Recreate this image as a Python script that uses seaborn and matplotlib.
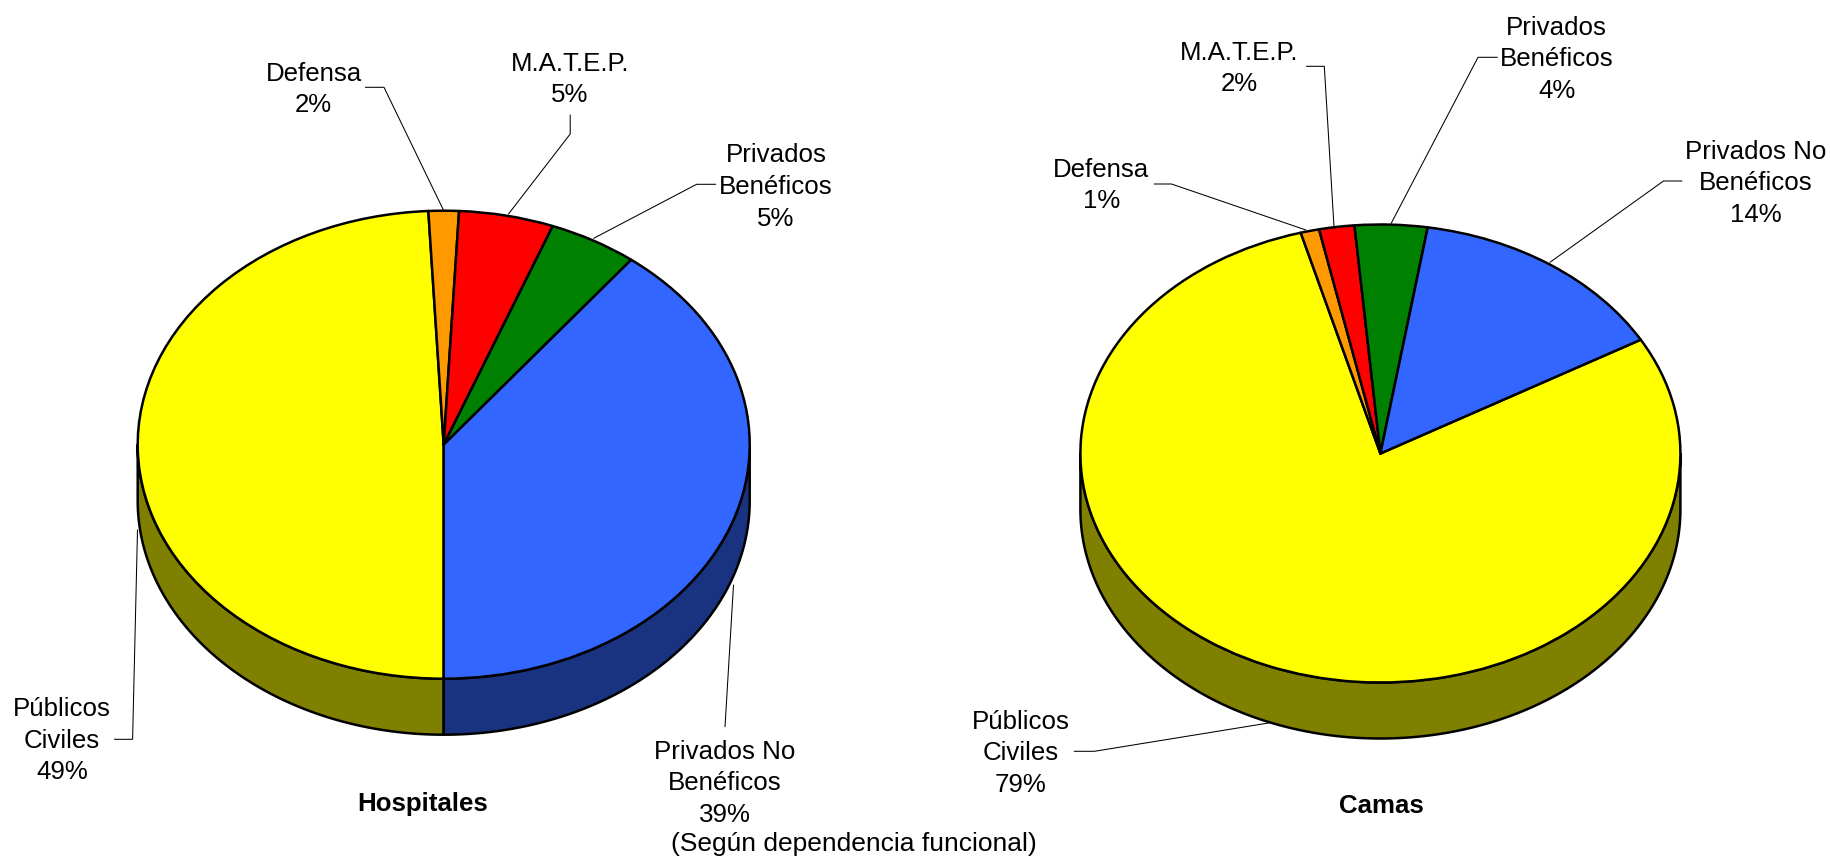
import numpy as np
import matplotlib
matplotlib.use("Agg")
import matplotlib.pyplot as plt
import seaborn as sns

# ---------- data ----------
categories = ["Públicos\nCiviles", "Defensa", "M.A.T.E.P.", "Privados\nBenéficos", "Privados No\nBenéficos"]
hospitales = [49.2, 1.6, 5.0, 4.7, 39.5]
camas = [79.0, 1.0, 1.9, 3.9, 14.2]
hospitales_pct = [49, 2, 5, 5, 39]
camas_pct = [79, 1, 2, 4, 14]
titles = ["Hospitales", "Camas"]
subtitle = "(Según dependencia funcional)"
top_colors = ["#FFFF00", "#FF9900", "#FF0000", "#008000", "#3366FF"]
side_colors = ["#808000", "#804D00", "#800000", "#004000", "#1A3380"]

# ---------- style / layout ----------
sns.set_theme(style="white")
plt.rcParams["font.family"] = ["Liberation Sans", "DejaVu Sans"]
W, H = 1831, 861
FS = 18.6
LW = 1.8
MARGIN = 1.05

fig = plt.figure(figsize=(W / 100, H / 100), dpi=100, facecolor="white")


def pie3d(values, cx, cy, rx, ry, depth, start):
    """Elliptic pie with an extruded front wall; geometry given in figure pixels."""
    d = depth / ry
    left = (cx - MARGIN * rx) / W
    width = 2 * MARGIN * rx / W
    top_px = cy - MARGIN * ry
    bot_px = cy + MARGIN * ry + depth
    ax = fig.add_axes([left, 1 - bot_px / H, width, (bot_px - top_px) / H])
    palette = sns.color_palette(top_colors)
    ax.pie(values, colors=palette, startangle=start, counterclock=False, radius=1,
           wedgeprops=dict(edgecolor="black", linewidth=LW, zorder=3, joinstyle="round"))
    ax.set_aspect("auto")
    ax.set_xlim(-MARGIN, MARGIN)
    ax.set_ylim(-MARGIN - d, MARGIN)
    ax.axis("off")
    # front wall, one piece per wedge, from the same values
    edges = start - np.concatenate([[0], np.cumsum(values)]) * 3.6
    for a0, a1, c in zip(edges[:-1], edges[1:], side_colors):
        # visible front part: sin(angle) < 0
        for shift in (0, -360, 360):
            hi = min(a0 + shift, 360)
            lo = max(a1 + shift, 180)
            if hi > lo:
                t = np.radians(np.linspace(lo, hi, 200))
                xs = np.concatenate([np.cos(t), np.cos(t)[::-1]])
                ys = np.concatenate([np.sin(t), np.sin(t)[::-1] - d])
                ax.fill(xs, ys, facecolor=c, edgecolor="black", linewidth=LW,
                        zorder=2, joinstyle="round")
    return ax


pie3d(hospitales, 443.7, 444.7, 306, 234, 56, 270)
pie3d(camas, 1380.4, 453.5, 300, 229, 56, 29.8)

# overlay in figure pixels for callouts
ov = fig.add_axes([0, 0, 1, 1], facecolor="none")
ov.set_xlim(0, W)
ov.set_ylim(H, 0)
ov.axis("off")

hosp_pos = [(62, 740.5), (313.8, 89.5), (569.8, 79.5), (776, 187), (725, 783.5)]
cam_pos = [(1021, 753.5), (1101.5, 185.5), (1239, 68.5), (1556.7, 59.5), (1755.4, 183.5)]


def label(pos, cat, pct):
    ov.text(pos[0], pos[1], f"{cat}\n{pct}%", ha="center", va="center",
            fontsize=FS, color="black", linespacing=1.42, multialignment="center")


for p, c, v in zip(hosp_pos, categories, hospitales_pct):
    label(p, c, v)
for p, c, v in zip(cam_pos, categories, camas_pct):
    label(p, c, v)

leaders = [
    [(114.4, 739.3), (132.6, 739.3), (137.5, 530)],
    [(365.4, 87.3), (384, 87.3), (443.4, 210)],
    [(570.2, 115), (570.2, 134), (508.5, 214)],
    [(715.7, 184.3), (696.6, 184.3), (593.7, 238.3)],
    [(725, 726.7), (733.5, 585)],
    [(1074.2, 751.3), (1094.4, 751.3), (1270.4, 722.7)],
    [(1154.1, 184), (1171.5, 184), (1305.9, 230)],
    [(1306.4, 66.3), (1324.3, 66.3), (1334, 226.7)],
    [(1497.4, 57.3), (1478, 57.3), (1391.2, 223.3)],
    [(1681.9, 181), (1663.5, 181), (1550, 262.3)],
]
for seg in leaders:
    xs, ys = zip(*seg)
    ov.plot(xs, ys, color="black", lw=0.75, solid_joinstyle="miter")

ov.text(423, 803.5, titles[0], ha="center", va="center", fontsize=FS, fontweight="bold", color="black")
ov.text(1381, 806, titles[1], ha="center", va="center", fontsize=FS, fontweight="bold", color="black")
ov.text(854, 844, subtitle, ha="center", va="center", fontsize=19.0, color="black")

fig.savefig("out.png", dpi=100, facecolor="white")
